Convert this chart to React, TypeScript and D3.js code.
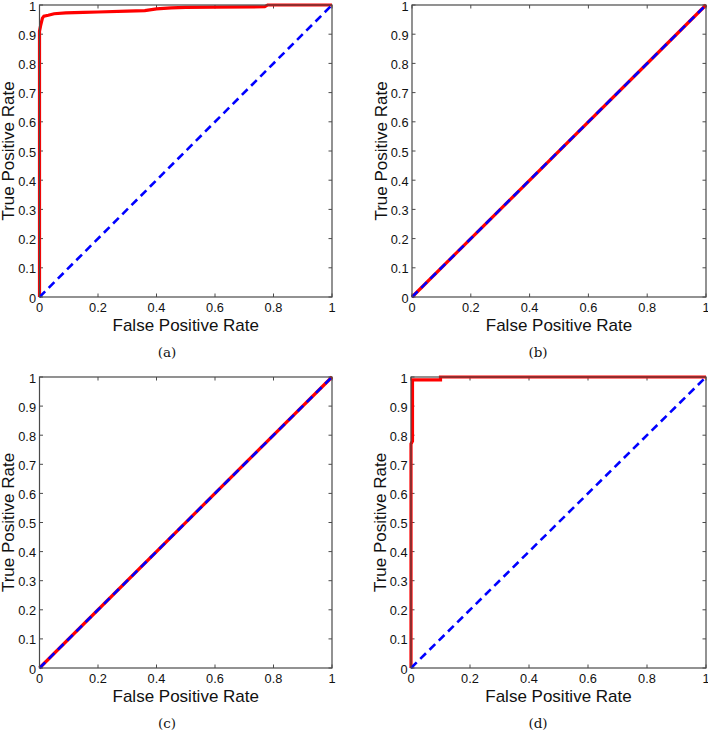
import React from "react";
import * as d3 from "d3";

const panelIds = ["a", "b", "c", "d"];
const xTickValues = [0, 0.2, 0.4, 0.6, 0.8, 1];
const yTickValues = [0, 0.1, 0.2, 0.3, 0.4, 0.5, 0.6, 0.7, 0.8, 0.9, 1];
const xLabel = "False Positive Rate";
const yLabel = "True Positive Rate";

const chanceFpr = [0, 1];
const chanceTpr = [0, 1];

const rocAFpr = [0, 0, 0.004, 0.01, 0.015, 0.03, 0.05, 0.09, 0.15, 0.2, 0.3, 0.36, 0.4, 0.45, 0.5, 0.6, 0.77, 0.78, 1];
const rocATpr = [0, 0.91, 0.93, 0.955, 0.962, 0.965, 0.97, 0.973, 0.975, 0.976, 0.979, 0.981, 0.987, 0.99, 0.992, 0.993, 0.994, 1, 1];

const rocBFpr = [0, 1];
const rocBTpr = [0, 1];

const rocCFpr = [0, 1];
const rocCTpr = [0, 1];

const rocDFpr = [0, 0, 0.005, 0.005, 0.1, 0.1, 1];
const rocDTpr = [0, 0.77, 0.78, 0.99, 0.99, 1, 1];

const rocFpr = [rocAFpr, rocBFpr, rocCFpr, rocDFpr];
const rocTpr = [rocATpr, rocBTpr, rocCTpr, rocDTpr];

const frames = [
  { left: 39.5, right: 332, top: 5, bottom: 297, cap: 167 },
  { left: 412, right: 706, top: 5, bottom: 297, cap: 538 },
  { left: 39.5, right: 332, top: 377, bottom: 668, cap: 167 },
  { left: 411, right: 706, top: 377, bottom: 668, cap: 538 },
];

const fmt = (v: number) => (v === 0 ? "0" : v === 1 ? "1" : String(v));

function Panel({ i }: { i: number }) {
  const f = frames[i];
  const x = d3.scaleLinear().domain([0, 1]).range([f.left, f.right]);
  const y = d3.scaleLinear().domain([0, 1]).range([f.bottom, f.top]);
  const line = d3
    .line<number>()
    .x((_, k) => x(rocFpr[i][k]))
    .y((_, k) => y(rocTpr[i][k]));
  const chance = d3
    .line<number>()
    .x((_, k) => x(chanceFpr[k]))
    .y((_, k) => y(chanceTpr[k]));
  const axisColor = "#4a4a4a";
  const font = "Liberation Sans, Arial, sans-serif";
  const tl = 3.5;
  const midY = (f.top + f.bottom) / 2;
  const midX = (f.left + f.right) / 2;
  return (
    <g>
      <rect x={f.left} y={f.top} width={f.right - f.left} height={f.bottom - f.top} fill="white" stroke="none" />
      {xTickValues.map((v) => (
        <g key={"x" + v}>
          <line x1={x(v)} x2={x(v)} y1={f.bottom} y2={f.bottom - tl} stroke={axisColor} strokeWidth={1} />
          <line x1={x(v)} x2={x(v)} y1={f.top} y2={f.top + tl} stroke={axisColor} strokeWidth={1} />
          <text x={x(v)} y={f.bottom + 14.5} textAnchor="middle" fontFamily={font} fontSize={12.8} fill="#111">
            {fmt(v)}
          </text>
        </g>
      ))}
      {yTickValues.map((v) => (
        <g key={"y" + v}>
          <line x1={f.left} x2={f.left + tl} y1={y(v)} y2={y(v)} stroke={axisColor} strokeWidth={1} />
          <line x1={f.right} x2={f.right - tl} y1={y(v)} y2={y(v)} stroke={axisColor} strokeWidth={1} />
          <text x={f.left - 3.5} y={y(v) + 5.5} textAnchor="end" fontFamily={font} fontSize={12.8} fill="#111">
            {fmt(v)}
          </text>
        </g>
      ))}
      <path d={line(rocFpr[i]) || ""} fill="none" stroke="#ff0000" strokeWidth={3.2} strokeLinejoin="miter" />
      <path d={chance(chanceFpr) || ""} fill="none" stroke="#0000ff" strokeWidth={2.6} strokeDasharray="8,5" />
      <rect x={f.left} y={f.top} width={f.right - f.left} height={f.bottom - f.top} fill="none" stroke={axisColor} strokeWidth={1.2} />
      <text x={midX} y={f.bottom + 34} textAnchor="middle" fontFamily={font} fontSize={17} fill="#111">
        {xLabel}
      </text>
      <text
        transform={`translate(${f.left - 25.5},${midY}) rotate(-90)`}
        textAnchor="middle"
        fontFamily={font}
        fontSize={17}
        fill="#111"
      >
        {yLabel}
      </text>
      <text x={f.cap} y={f.bottom + 59.5} textAnchor="middle" fontFamily="DejaVu Serif, Liberation Serif, serif" fontSize={13.5} fill="#111">
        ({panelIds[i]})
      </text>
    </g>
  );
}

export default function App() {
  return (
    <svg
      width={708}
      height={733}
      style={{ position: "absolute", left: 0, top: 0, background: "white" }}
    >
      <rect width={708} height={733} fill="white" />
      {panelIds.map((_, i) => (
        <Panel key={i} i={i} />
      ))}
    </svg>
  );
}
